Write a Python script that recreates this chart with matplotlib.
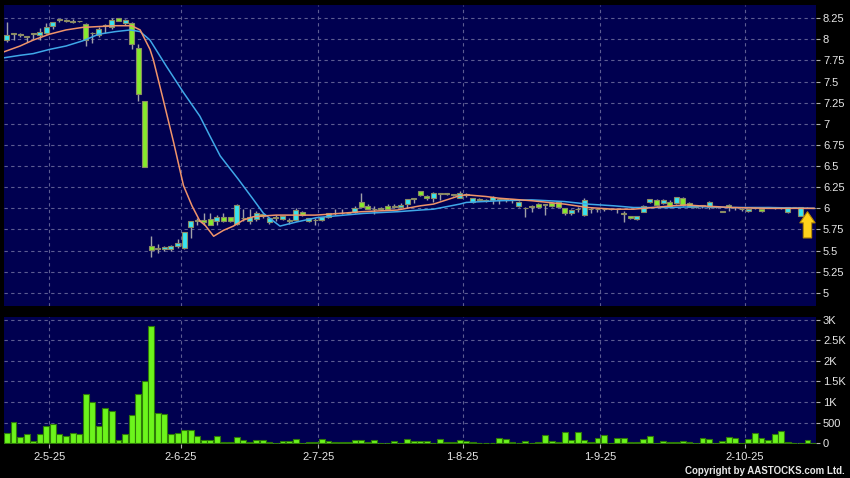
import matplotlib
matplotlib.use("Agg")
from matplotlib import pyplot as plt
import numpy as np

plt.rcParams['font.family'] = ['Liberation Sans', 'DejaVu Sans']

# daily candles (index = trading day)
opens = [7.99, 8.07, 8.05, 8.03, 8.07, 8.05, 8.07, 8.16, 8.23, 8.22,
         8.22, 8.21, 8.18, 8.07, 8.05, 8.17, 8.14, 8.25, 8.19, 8.19,
         7.90, 7.27, 5.55, 5.52, 5.52, 5.52, 5.55, 5.53, 5.78, 5.85,
         5.86, 5.87, 5.85, 5.90, 5.90, 5.81, 5.88, 5.85, 5.87, 5.93,
         5.84, 5.89, 5.87, 5.85, 5.86, 5.96, 5.85, 5.86, 5.86, 5.90,
         5.95, 5.94, 5.94, 5.96, 6.08, 6.03, 5.99, 6.00, 6.03, 6.03,
         6.01, 6.05, 6.11, 6.20, 6.15, 6.12, 6.17, 6.17, 6.16, 6.12,
         6.16, 6.07, 6.11, 6.10, 6.10, 6.10, 6.10, 6.10, 6.03, 6.00,
         6.03, 6.05, 6.04, 6.06, 6.07, 6.00, 5.94, 5.99, 5.92, 5.99,
         5.99, 5.99, 5.99, 5.99, 5.95, 5.91, 5.87, 5.96, 6.07, 6.10,
         6.06, 6.08, 6.06, 6.12, 6.06, 6.02, 6.03, 6.01, 6.02, 5.96,
         6.04, 6.01, 5.99, 5.97, 6.00, 5.99, 6.01, 6.00, 6.00, 5.96,
         6.02, 5.91, 6.00, 6.00]
highs = [8.20, 8.07, 8.07, 8.03, 8.07, 8.13, 8.19, 8.20, 8.24, 8.24,
         8.24, 8.22, 8.19, 8.09, 8.14, 8.18, 8.25, 8.25, 8.24, 8.20,
         7.94, 7.27, 5.67, 5.58, 5.55, 5.57, 5.64, 5.72, 5.85, 5.88,
         5.95, 5.95, 5.92, 5.94, 5.90, 6.05, 5.99, 5.99, 5.97, 5.95,
         5.89, 5.92, 5.91, 5.88, 6.00, 5.97, 5.89, 5.88, 5.90, 5.95,
         5.99, 5.99, 5.96, 6.03, 6.18, 6.05, 6.03, 6.02, 6.05, 6.05,
         6.06, 6.11, 6.12, 6.21, 6.16, 6.19, 6.18, 6.18, 6.17, 6.20,
         6.18, 6.12, 6.12, 6.11, 6.15, 6.11, 6.11, 6.11, 6.09, 6.01,
         6.04, 6.06, 6.05, 6.07, 6.08, 6.00, 5.99, 6.01, 6.12, 6.00,
         6.00, 6.00, 5.99, 6.00, 5.97, 5.91, 5.91, 6.04, 6.11, 6.11,
         6.11, 6.10, 6.14, 6.13, 6.07, 6.03, 6.04, 6.09, 6.03, 5.97,
         6.05, 6.02, 6.00, 5.99, 6.01, 6.00, 6.02, 6.02, 6.01, 6.02,
         6.02, 6.02, 6.01, 6.00]
lows = [7.97, 7.99, 8.03, 7.97, 8.00, 7.99, 8.06, 8.12, 8.20, 8.20,
        8.19, 8.20, 7.92, 7.95, 8.03, 8.07, 8.12, 8.22, 8.17, 7.88,
        7.27, 6.49, 5.42, 5.47, 5.50, 5.50, 5.53, 5.52, 5.65, 5.80,
        5.80, 5.80, 5.80, 5.84, 5.84, 5.80, 5.85, 5.82, 5.85, 5.88,
        5.82, 5.85, 5.86, 5.82, 5.85, 5.91, 5.84, 5.80, 5.85, 5.89,
        5.92, 5.93, 5.93, 5.94, 6.00, 5.99, 5.93, 5.99, 5.99, 6.00,
        6.00, 6.00, 6.06, 6.15, 6.10, 6.08, 6.10, 6.16, 6.15, 6.12,
        6.14, 6.06, 6.09, 6.07, 6.05, 6.05, 6.08, 6.06, 6.02, 5.90,
        5.96, 6.00, 5.92, 6.02, 6.02, 5.92, 5.92, 5.96, 5.91, 5.94,
        5.96, 5.97, 5.98, 5.95, 5.84, 5.87, 5.86, 5.96, 6.06, 6.03,
        6.05, 6.00, 6.05, 6.03, 6.02, 6.00, 6.00, 5.99, 6.00, 5.96,
        5.97, 5.98, 5.97, 5.96, 5.99, 5.96, 6.00, 5.99, 5.99, 5.95,
        6.00, 5.91, 6.00, 6.00]
closes = [8.05, 8.06, 8.05, 8.03, 8.06, 8.09, 8.14, 8.20, 8.23, 8.22,
          8.20, 8.21, 7.99, 8.07, 8.12, 8.16, 8.23, 8.22, 8.23, 7.94,
          7.35, 6.49, 5.51, 5.52, 5.54, 5.55, 5.59, 5.72, 5.85, 5.85,
          5.84, 5.80, 5.90, 5.85, 5.85, 6.04, 5.88, 5.90, 5.94, 5.91,
          5.88, 5.89, 5.91, 5.85, 5.98, 5.92, 5.88, 5.86, 5.90, 5.94,
          5.94, 5.94, 5.94, 6.00, 6.01, 5.99, 5.99, 5.99, 5.99, 6.01,
          6.04, 6.11, 6.11, 6.16, 6.12, 6.18, 6.17, 6.17, 6.16, 6.18,
          6.16, 6.12, 6.10, 6.09, 6.14, 6.10, 6.10, 6.10, 6.08, 6.00,
          6.01, 6.01, 6.04, 6.03, 6.02, 5.94, 5.98, 5.99, 6.10, 5.99,
          5.99, 5.99, 5.99, 5.99, 5.93, 5.89, 5.91, 6.03, 6.11, 6.04,
          6.10, 6.01, 6.13, 6.04, 6.02, 6.02, 6.03, 6.08, 6.02, 5.96,
          6.02, 6.01, 5.99, 5.99, 6.00, 5.97, 6.00, 6.00, 6.00, 6.01,
          6.01, 6.01, 6.00, 6.00]
volumes = [242, 516, 161, 218, 56, 226, 411, 468, 234, 177,
           242, 234, 1194, 1008, 411, 855, 774, 81, 226, 694,
           1202, 1508, 2855, 726, 710, 218, 250, 331, 331, 169,
           81, 81, 177, 32, 24, 153, 81, 40, 81, 73,
           32, 8, 55, 55, 103, 16, 32, 40, 103, 63,
           24, 24, 24, 79, 79, 32, 79, 5, 16, 55,
           8, 111, 55, 55, 47, 8, 103, 24, 32, 79,
           55, 32, 16, 16, 16, 126, 103, 24, 8, 63,
           8, 24, 213, 47, 33, 283, 83, 267, 92, 33,
           117, 200, 5, 117, 133, 33, 33, 108, 183, 17,
           58, 33, 33, 67, 42, 8, 133, 100, 8, 67,
           158, 117, 8, 100, 258, 133, 75, 225, 292, 25,
           0, 0, 75, 0]

# moving averages (index, price)
ma10_x = [-0.5, 2, 4, 6.5, 9, 11.5, 14, 16.5, 19, 20.3,
          21.8, 22.3, 23.8, 25.4, 26.9, 28.2, 29.4, 30.2, 31.5, 33,
          34.5, 36, 37.5, 39, 41, 44, 47, 49, 54, 59.5,
          63, 65, 69, 70, 73, 75, 80, 85, 88.5, 92.5,
          95.5, 98.5, 101.5, 103.5, 105.5, 110.5, 116, 123]
ma10_y = [7.85, 7.92, 7.99, 8.06, 8.11, 8.14, 8.15, 8.16, 8.16, 8.11,
          7.88, 7.76, 7.29, 6.78, 6.27, 6.03, 5.85, 5.80, 5.67, 5.74,
          5.79, 5.86, 5.90, 5.91, 5.92, 5.92, 5.92, 5.93, 5.96, 5.98,
          6.03, 6.05, 6.15, 6.16, 6.14, 6.12, 6.09, 6.05, 6.01, 5.99,
          5.99, 6.01, 6.03, 6.04, 6.03, 6.01, 6.00, 6.00]
ma20_x = [-0.5, 2, 4, 6.5, 9, 11.5, 14, 16.5, 18.8, 20.3,
          21.8, 24.3, 26.9, 29.4, 30.9, 32.5, 35.2, 37.5, 39.1, 41.6,
          44.2, 47.2, 54.3, 59.5, 63, 65, 69, 70, 75, 80,
          85, 88.5, 92.5, 95.5, 100.5, 105.5, 110.5, 116, 123]
ma20_y = [7.78, 7.81, 7.83, 7.88, 7.92, 7.98, 8.06, 8.09, 8.11, 8.09,
          7.99, 7.68, 7.37, 7.09, 6.86, 6.62, 6.35, 6.11, 5.94, 5.79,
          5.84, 5.89, 5.94, 5.96, 5.98, 5.99, 6.05, 6.07, 6.09, 6.10,
          6.08, 6.05, 6.03, 6.01, 6.01, 6.02, 6.01, 6.01, 6.00]

date_idx = [6, 26, 47, 69, 90, 112]
date_labels = ['2-5-25', '2-6-25', '2-7-25', '1-8-25', '1-9-25', '2-10-25']
price_ticks = [5, 5.25, 5.5, 5.75, 6, 6.25, 6.5, 6.75, 7, 7.25, 7.5, 7.75, 8, 8.25]
vol_ticks = [0, 500, 1000, 1500, 2000, 2500, 3000]
vol_labels = ['0', '500', '1K', '1.5K', '2K', '2.5K', '3K']

BG = '#000050'
GRID = '#5c5c92'
UP = '#38e4f0'
DOWN = '#86ea2c'
TXT = '#e6e6e6'

fig = plt.figure(figsize=(8.5, 4.78), dpi=100, facecolor='black')
ax = fig.add_axes([4 / 850, 1 - 306 / 478, 812 / 850, 301 / 478])
axv = fig.add_axes([4 / 850, 1 - 444 / 478, 812 / 850, 127 / 478])

x = np.arange(len(closes))
o = np.array(opens)
c = np.array(closes)
body_lo = np.minimum(o, c)
body_h = np.maximum(np.abs(c - o), 0.008)
cols = [UP if cc > oo else (DOWN if cc < oo else '#9aa078') for oo, cc in zip(opens, closes)]

for a in (ax, axv):
    a.set_facecolor(BG)
    for s in a.spines.values():
        s.set_visible(False)
    for d in date_idx:
        a.axvline(d + 0.45, color=GRID, lw=0.8, ls=(0, (3, 3)), zorder=0)

for t in price_ticks:
    ax.axhline(t, color=GRID, lw=0.8, ls=(0, (3, 3)), zorder=0)
for t in vol_ticks:
    axv.axhline(t, color=GRID, lw=0.8, ls=(0, (3, 3)), zorder=0)

ax.vlines(x, lows, highs, color='#a0a0a8', lw=1, zorder=2)
ax.bar(x, body_h, bottom=body_lo, width=0.76, color=cols,
       edgecolor='#8c8c64', linewidth=0.8, zorder=3)
ax.plot(ma20_x, ma20_y, color='#3fa8e8', lw=1.1, zorder=4)
ax.plot(ma10_x, ma10_y, color='#f0946a', lw=1.1, zorder=4)

ax.annotate('', xy=(122, 5.96), xytext=(122, 5.65),
            arrowprops=dict(arrowstyle='simple,head_length=0.8,head_width=1.1,tail_width=0.6',
                            fc='#ffd21c', ec='#b88a00', lw=0.8, shrinkA=0, shrinkB=0),
            zorder=6)

axv.bar(x, volumes, width=0.9, color='#6cf41c', edgecolor='#2e7a08',
        linewidth=0.8, zorder=3)

ax.set_xlim(-0.45, 123.3)
axv.set_xlim(-0.45, 123.3)
ax.set_ylim(4.845, 8.405)
axv.set_ylim(-17, 3065)

ax.yaxis.tick_right()
ax.set_yticks(price_ticks)
ax.set_yticklabels(['%g' % t for t in price_ticks])
axv.yaxis.tick_right()
axv.set_yticks(vol_ticks)
axv.set_yticklabels(vol_labels)
ax.set_xticks([])

axv.set_xticks([d + 0.45 for d in date_idx])
axv.set_xticklabels(date_labels)

for a in (ax, axv):
    a.tick_params(axis='y', direction='out', length=3, width=0.8, color='#b0b0b0',
                  labelcolor=TXT, labelsize=8, pad=2)
axv.tick_params(axis='x', direction='out', length=3, width=0.8, color='#b0b0b0',
                labelcolor=TXT, labelsize=8, pad=3)

fig.text(845 / 850, 1 - 471 / 478, 'Copyright by AASTOCKS.com Ltd.', ha='right',
         va='center', color=TXT, fontsize=7, fontweight='bold')

plt.savefig('out.png', dpi=100, facecolor='black')
